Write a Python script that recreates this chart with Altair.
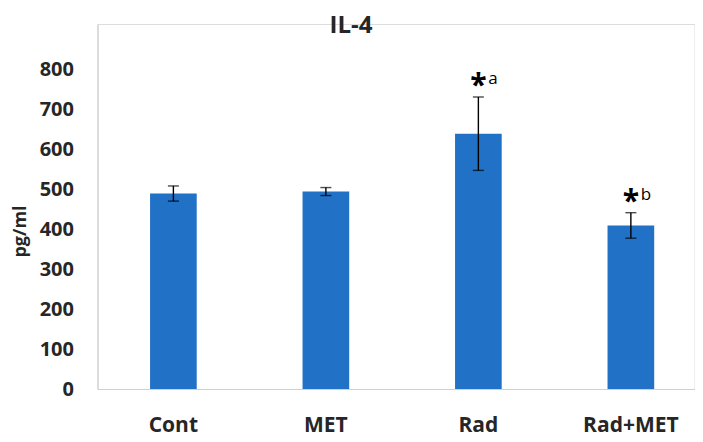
import altair as alt
import pandas as pd

categories = ["Cont", "MET", "Rad", "Rad+MET"]
means = [490, 495, 640, 410]
errors = [19, 10, 92, 32]
sig_letters = ["", "", "a", "b"]
y_ticks = [0, 100, 200, 300, 400, 500, 600, 700, 800]
chart_title = "IL-4"

df = pd.DataFrame({
    "group": categories,
    "mean": means,
    "err": errors,
    "letter": sig_letters,
})
df["lo"] = df["mean"] - df["err"]
df["hi"] = df["mean"] + df["err"]

FONT = "Open Sans"
TXT = "#262626"

x_enc = alt.X(
    "group:N",
    sort=categories,
    scale=alt.Scale(paddingInner=0.694, paddingOuter=0.3045, align=0.566),
    axis=alt.Axis(
        title=None, labelAngle=0, labelFont=FONT, labelFontSize=21,
        labelFontWeight="bold", labelColor=TXT, ticks=False, tickSize=0,
        labelPadding=42, labelBaseline="alphabetic",
        domainColor="#d0d0d0", domainWidth=1.2, grid=False,
    ),
)
y_scale = alt.Scale(domain=[0, 915], nice=False, zero=True)
y_axis = alt.Axis(
    title="pg/ml", values=y_ticks, grid=False, ticks=False, tickSize=0,
    labelFont=FONT, labelFontSize=20, labelFontWeight="bold", labelColor=TXT,
    labelPadding=24, domainColor="#d0d0d0", domainWidth=1.2,
    titleFont=FONT, titleFontSize=18, titleFontWeight="bold", titleColor=TXT,
    titleX=-72.5, titleY=207, titleAngle=-90, titleAlign="center",
    titleBaseline="alphabetic",
)

base = alt.Chart(df)

bars = base.mark_bar(color="#2171c7").encode(
    x=x_enc,
    y=alt.Y("mean:Q", scale=y_scale, axis=y_axis),
)

rule = base.mark_rule(color="black", strokeWidth=1.4).encode(
    x=alt.X("group:N", sort=categories),
    y="lo:Q",
    y2="hi:Q",
)
cap_hi = base.mark_tick(color="black", thickness=1.4, size=11, orient="horizontal").encode(
    x=alt.X("group:N", sort=categories), y="hi:Q"
)
cap_lo = base.mark_tick(color="black", thickness=1.4, size=11, orient="horizontal").encode(
    x=alt.X("group:N", sort=categories), y="lo:Q"
)

sig = base.transform_filter("datum.letter != ''")
star = sig.mark_text(
    text="*", font=FONT, fontSize=30, fontWeight="bold", color="black",
    baseline="alphabetic", align="center", dy=-2,
).encode(x=alt.X("group:N", sort=categories), y="hi:Q")
letter = sig.mark_text(
    font=FONT, fontSize=17, color="black",
    baseline="alphabetic", align="left", dx=10, dy=-13,
).encode(x=alt.X("group:N", sort=categories), y="hi:Q", text="letter:N")

title = alt.Chart(pd.DataFrame({"t": [chart_title]})).mark_text(
    font=FONT, fontSize=24, fontWeight="bold", color=TXT,
    baseline="alphabetic", align="center",
).encode(x=alt.value(253.5), y=alt.value(9), text="t:N")

chart = alt.layer(bars, rule, cap_hi, cap_lo, star, letter, title).properties(
    width=597,
    height=365,
    autosize=alt.AutoSizeParams(type="none"),
    padding={"left": 89.5, "top": 16, "right": 0, "bottom": 50},
).configure_view(strokeWidth=0).configure(background="white")

chart.save("out.html", embed_options={"renderer": "svg", "actions": False})
